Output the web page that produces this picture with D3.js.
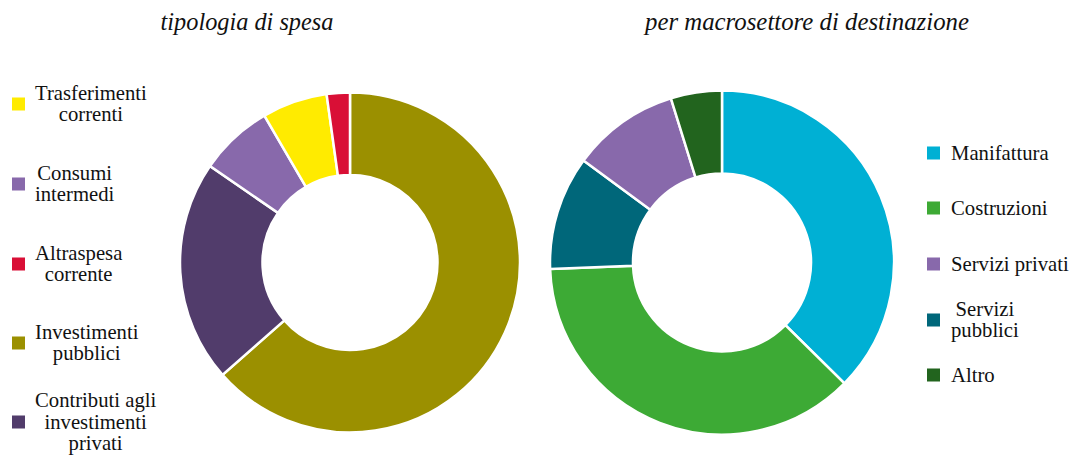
<!DOCTYPE html>
<html>
<head>
<meta charset="utf-8">
<script src="https://cdn.jsdelivr.net/npm/d3@7"></script>
<style>
  html, body { margin: 0; padding: 0; background: #fff; }
  svg { display: block; }
</style>
</head>
<body>
<svg id="chart" width="1070" height="458"></svg>
<script>
// ---- Data (left: tipologia di spesa) ----
const leftTitle = "tipologia di spesa";
const leftCategories = ["Trasferimenti correnti", "Consumi intermedi", "Altraspesa corrente", "Investimenti pubblici", "Contributi agli investimenti privati"];
const leftLegendLines = [["Trasferimenti", "correnti"], ["Consumi", "intermedi"], ["Altraspesa", "corrente"], ["Investimenti", "pubblici"], ["Contributi agli", "investimenti", "privati"]];
const leftValues = [6.2, 7.0, 2.2, 63.5, 21.1];
const leftColors = ["#FFEB00", "#8869AB", "#D90F36", "#9B9000", "#513C6B"];
const leftPieOrder = ["Investimenti pubblici", "Contributi agli investimenti privati", "Consumi intermedi", "Trasferimenti correnti", "Altraspesa corrente"];

// ---- Data (right: per macrosettore di destinazione) ----
const rightTitle = "per macrosettore di destinazione";
const rightCategories = ["Manifattura", "Costruzioni", "Servizi privati", "Servizi pubblici", "Altro"];
const rightLegendLines = [["Manifattura"], ["Costruzioni"], ["Servizi privati"], ["Servizi", "pubblici"], ["Altro"]];
const rightValues = [37.4, 37.0, 10.1, 10.7, 4.8];
const rightColors = ["#00B0D4", "#3DAA35", "#8869AB", "#00677A", "#22641E"];
const rightPieOrder = ["Manifattura", "Costruzioni", "Servizi pubblici", "Servizi privati", "Altro"];

const svg = d3.select("#chart");
const serif = "'Liberation Serif', 'DejaVu Serif', serif";

function donut(cfg) {
  const data = cfg.categories.map((c, i) => ({ cat: c, value: cfg.values[i], color: cfg.colors[i] }));
  const ordered = cfg.pieOrder.map(c => data.find(d => d.cat === c));
  const pie = d3.pie().sort(null).value(d => d.value);
  const arc = d3.arc().innerRadius(cfg.inner).outerRadius(cfg.outer);
  const g = svg.append("g").attr("transform", `translate(${cfg.cx},${cfg.cy})`);
  g.selectAll("path").data(pie(ordered)).join("path")
    .attr("d", arc)
    .attr("fill", d => d.data.color)
    .attr("stroke", "#fff")
    .attr("stroke-width", 2.5)
    .attr("stroke-linejoin", "miter");

  svg.append("text")
    .attr("x", cfg.titleX).attr("y", cfg.titleY)
    .attr("text-anchor", "middle")
    .attr("font-family", serif)
    .attr("font-style", "italic")
    .attr("font-size", cfg.titleSize)
    .attr("fill", "#111")
    .text(cfg.title);
}

function legend(cfg) {
  const lh = 21.5;
  cfg.lines.forEach((lines, i) => {
    const cy = cfg.ys[i];
    svg.append("rect")
      .attr("x", cfg.sqX).attr("y", cy - 6.5)
      .attr("width", 13).attr("height", 13)
      .attr("fill", cfg.colors[i]);
    const t = svg.append("text")
      .attr("font-family", serif)
      .attr("font-size", 20.7)
      .attr("fill", "#111")
      .attr("text-anchor", "middle");
    const tspans = lines.map((ln, j) => t.append("tspan").text(ln));
    let maxW = 0;
    tspans.forEach(ts => { maxW = Math.max(maxW, ts.node().getComputedTextLength()); });
    const cx = cfg.textX + maxW / 2;
    const n = lines.length;
    tspans.forEach((ts, j) => {
      ts.attr("x", cx).attr("y", cy + (j - (n - 1) / 2) * lh + 6.5);
    });
  });
}

donut({ categories: leftCategories, values: leftValues, colors: leftColors, pieOrder: leftPieOrder,
        cx: 350, cy: 262.5, outer: 170, inner: 87.5, title: leftTitle, titleX: 247, titleY: 30, titleSize: 24.3 });
donut({ categories: rightCategories, values: rightValues, colors: rightColors, pieOrder: rightPieOrder,
        cx: 722, cy: 262.5, outer: 172, inner: 89, title: rightTitle, titleX: 807, titleY: 30, titleSize: 24.8 });

legend({ lines: leftLegendLines, colors: leftColors, ys: [104, 184, 264, 343, 422], sqX: 12, textX: 35 });
legend({ lines: rightLegendLines, colors: rightColors, ys: [153, 208, 264, 320, 375], sqX: 927, textX: 951 });
</script>
</body>
</html>
